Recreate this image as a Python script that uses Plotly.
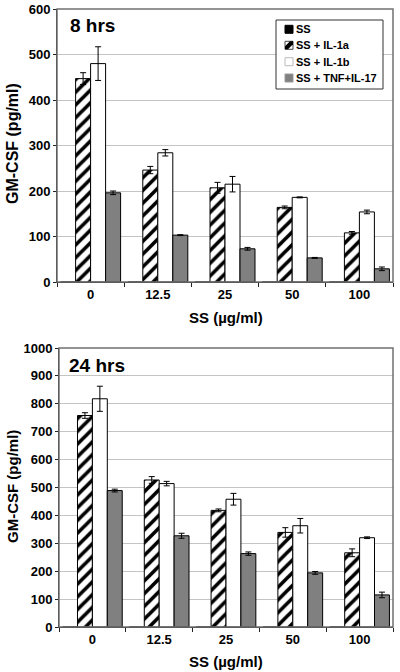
import plotly.graph_objects as go

categories = ["0", "12.5", "25", "50", "100"]
series_names = ["SS", "SS + IL-1a", "SS + IL-1b", "SS + TNF+IL-17"]

# 8 hrs
ss_8 = [0, 0, 0, 0, 0]
il1a_8 = [447, 246, 207, 164, 108]
il1a_8_err = [13, 8, 12, 3, 3]
il1b_8 = [480, 284, 215, 186, 154]
il1b_8_err = [37, 7, 17, 1, 4]
tnf_8 = [196, 103, 73, 53, 29]
tnf_8_err = [4, 1, 3, 1, 4]

# 24 hrs
ss_24 = [0, 0, 0, 0, 0]
il1a_24 = [758, 527, 418, 339, 266]
il1a_24_err = [10, 12, 5, 17, 14]
il1b_24 = [818, 514, 458, 363, 320]
il1b_24_err = [45, 8, 21, 26, 3]
tnf_24 = [489, 327, 263, 194, 115]
tnf_24_err = [5, 9, 6, 5, 10]

FONT = "Liberation Sans, Arial, sans-serif"
GREY = "#808080"

fig = go.Figure()


def add_panel(xa, ya, ss, a, aerr, b, berr, t, terr):
    common = dict(x=categories, xaxis=xa, yaxis=ya, showlegend=False)
    err_style = dict(type="data", color="black", thickness=1, width=3)
    fig.add_trace(go.Bar(y=ss, name=series_names[0],
                         marker=dict(color="black", line=dict(color="black", width=1)), **common))
    fig.add_trace(go.Bar(y=a, name=series_names[1],
                         error_y=dict(array=aerr, **err_style),
                         marker=dict(color="white", line=dict(color="black", width=1),
                                     pattern=dict(shape="/", fgcolor="black", bgcolor="white",
                                                  size=9, solidity=0.4)), **common))
    fig.add_trace(go.Bar(y=b, name=series_names[2],
                         error_y=dict(array=berr, **err_style),
                         marker=dict(color="white", line=dict(color="black", width=1)), **common))
    fig.add_trace(go.Bar(y=t, name=series_names[3],
                         error_y=dict(array=terr, **err_style),
                         marker=dict(color=GREY, line=dict(color="black", width=1)), **common))


add_panel("x", "y", ss_8, il1a_8, il1a_8_err, il1b_8, il1b_8_err, tnf_8, tnf_8_err)
add_panel("x2", "y2", ss_24, il1a_24, il1a_24_err, il1b_24, il1b_24_err, tnf_24, tnf_24_err)

W, H = 400, 672


def px_x(v):
    return v / W


def py(v):
    return 1 - v / H


tickfont = dict(family=FONT, size=13, color="black", weight="bold")
xcommon = dict(type="category", showline=True, linecolor="#222", linewidth=1,
               ticks="outside", tickson="boundaries", ticklen=4, tickcolor="#222",
               tickfont=tickfont, showgrid=False, automargin=False, fixedrange=True)
ycommon = dict(showline=True, linecolor="#222", linewidth=1, ticks="outside", ticklen=3,
               tickcolor="#222", tickfont=tickfont, showgrid=True, gridcolor="#c4c4c4",
               gridwidth=1, zeroline=False, automargin=False, dtick=100)

fig.update_layout(
    width=W, height=H,
    template="none",
    margin=dict(l=0, r=0, t=0, b=0),
    paper_bgcolor="white", plot_bgcolor="white",
    barmode="group", bargap=0.107, bargroupgap=0,
    font=dict(family=FONT, color="black"),
    xaxis=dict(domain=[px_x(57), px_x(393)], anchor="y", **xcommon),
    yaxis=dict(domain=[py(282), py(9)], anchor="x", range=[0, 600], **ycommon),
    xaxis2=dict(domain=[px_x(59), px_x(393)], anchor="y2", **xcommon),
    yaxis2=dict(domain=[py(627), py(348)], anchor="x2", range=[0, 1000], **ycommon),
    showlegend=False,
)

# plot frames
for xr, yr in (("x domain", "y domain"), ("x2 domain", "y2 domain")):
    fig.add_shape(type="rect", xref=xr, yref=yr, x0=0, x1=1, y0=0, y1=1,
                  line=dict(color="#707070", width=1.5), layer="above")

# legend (drawn as a key box)
fig.add_shape(type="rect", xref="paper", yref="paper",
              x0=px_x(276), x1=px_x(383), y0=py(89), y1=py(20),
              line=dict(color="#333", width=1), fillcolor="white", layer="above")
rows = [29.3, 45.3, 61.7, 78.0]
sx0, sx1 = 285, 293
sym_styles = [
    dict(fillcolor="black", line=dict(color="black", width=1)),
    dict(fillcolor="white", line=dict(color="#444", width=1)),
    dict(fillcolor="white", line=dict(color="#bbb", width=1)),
    dict(fillcolor=GREY, line=dict(color="#999", width=1)),
]
for i, (ry, st) in enumerate(zip(rows, sym_styles)):
    fig.add_shape(type="rect", xref="paper", yref="paper",
                  x0=px_x(sx0), x1=px_x(sx1), y0=py(ry + 4), y1=py(ry - 4),
                  layer="above", **st)
    if i == 1:
        # diagonal hatch stripe on the key
        path = (f"M {px_x(sx0)},{py(ry + 4)} L {px_x(sx0 + 3)},{py(ry + 4)} "
                f"L {px_x(sx1)},{py(ry - 1)} L {px_x(sx1)},{py(ry - 4)} "
                f"L {px_x(sx1 - 3)},{py(ry - 4)} L {px_x(sx0)},{py(ry + 1)} Z")
        fig.add_shape(type="path", xref="paper", yref="paper", path=path,
                      fillcolor="black", line=dict(width=0), layer="above")
    fig.add_annotation(xref="paper", yref="paper", showarrow=False,
                       x=px_x(294), y=py(ry), xanchor="left", yanchor="middle",
                       text=series_names[i],
                       font=dict(family=FONT, size=11, color="black", weight="bold"))

ann_font = dict(family=FONT, color="black", weight="bold")
annotations = [
    dict(text="8 hrs", x=px_x(68), y=py(26), xanchor="left", yanchor="middle",
         font=dict(size=19, **ann_font)),
    dict(text="24 hrs", x=px_x(67), y=py(366), xanchor="left", yanchor="middle",
         font=dict(size=19, **ann_font)),
    dict(text="SS (µg/ml)", x=px_x(226), y=py(317), xanchor="center", yanchor="middle",
         font=dict(size=15, **ann_font)),
    dict(text="SS (µg/ml)", x=px_x(226), y=py(661), xanchor="center", yanchor="middle",
         font=dict(size=15, **ann_font)),
    dict(text="GM-CSF (pg/ml)", x=px_x(12), y=py(144), xanchor="center", yanchor="middle",
         textangle=-90, font=dict(size=16, **ann_font)),
    dict(text="GM-CSF (pg/ml)", x=px_x(12), y=py(487), xanchor="center", yanchor="middle",
         textangle=-90, font=dict(size=15, **ann_font)),
]
for a in annotations:
    fig.add_annotation(xref="paper", yref="paper", showarrow=False, **a)

fig.write_html("out.html",
               config={"displayModeBar": False},
               post_script="document.body.style.margin='0';document.body.style.padding='0';"
                           "document.documentElement.style.overflow='hidden';")
